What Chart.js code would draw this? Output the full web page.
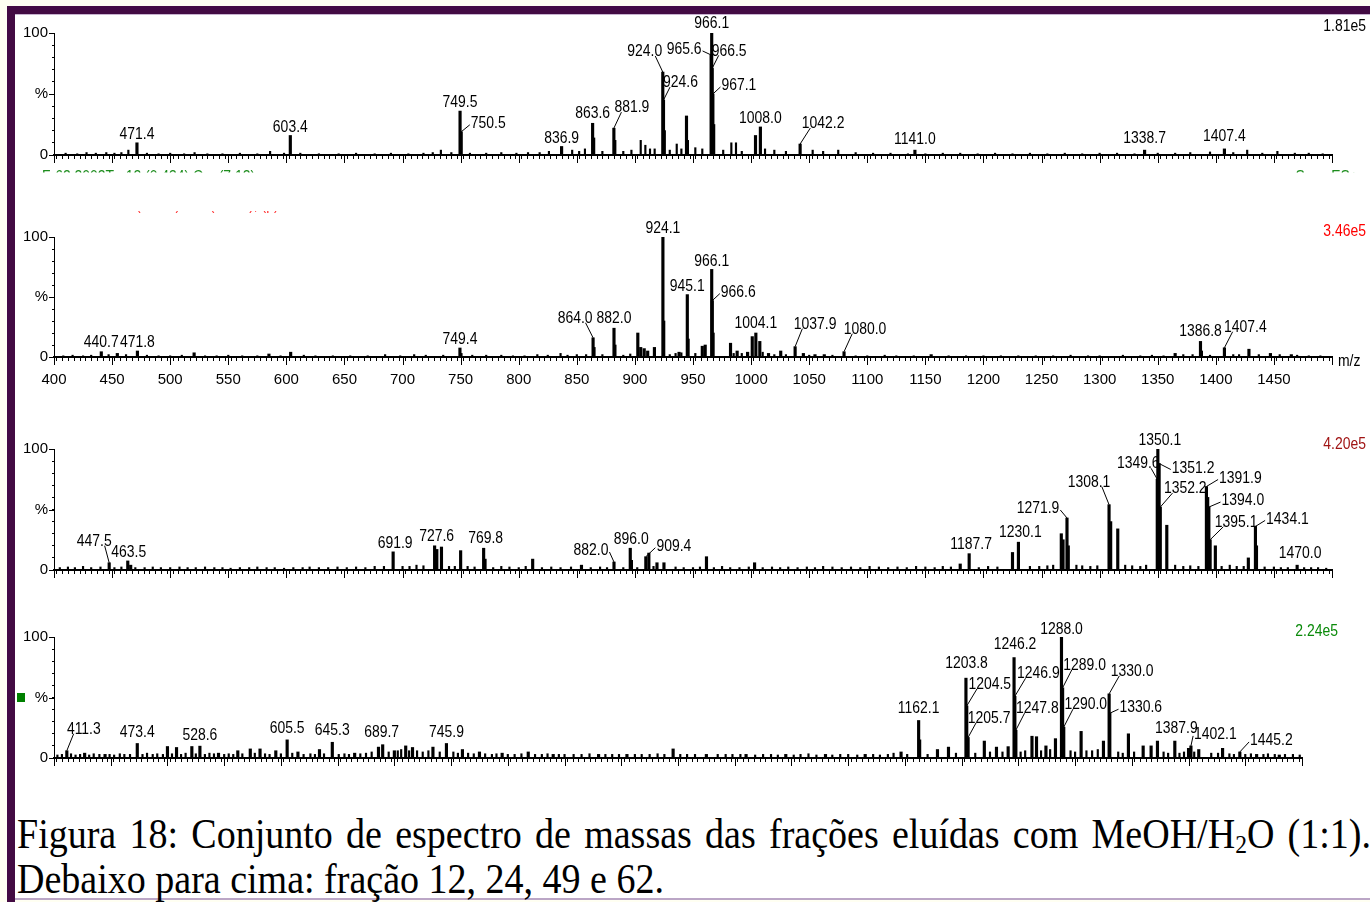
<!DOCTYPE html>
<html><head><meta charset="utf-8">
<script src="https://cdn.jsdelivr.net/npm/chart.js@4.4.1/dist/chart.umd.min.js"></script>
<style>
html,body{margin:0;padding:0;}
body{width:1370px;height:902px;position:relative;overflow:hidden;background:#fffff2;}
#frameTop{position:absolute;left:7px;top:6px;width:1363px;height:8px;background:#430b43;}
#frameLeft{position:absolute;left:7px;top:6px;width:8px;height:896px;background:#430b43;}
#white{position:absolute;left:15px;top:14px;width:1355px;height:884px;background:#fff;border-top:1px solid #c7b3cf;}
#frameBottom{position:absolute;left:15px;top:898px;width:1355px;height:2px;background:#bba6c6;}
canvas{position:absolute;left:0;}
.cap{position:absolute;left:17px;font-family:"Liberation Serif","Times New Roman",serif;font-size:42px;line-height:42px;white-space:nowrap;transform-origin:0 0;color:#000;}
.cap sub{font-size:26px;line-height:0;vertical-align:-5px;}
#greenSq{position:absolute;left:17px;top:693px;width:8px;height:9px;background:#008000;}
</style></head>
<body>
<div id="frameTop"></div><div id="frameLeft"></div><div id="white"></div><div id="frameBottom"></div>
<div id="greenSq"></div>
<canvas id="c62"></canvas><canvas id="c49"></canvas><canvas id="c24"></canvas><canvas id="c12"></canvas>
<div class="cap" id="cap1">Figura 18: Conjunto de espectro de massas das frações eluídas com MeOH/H<sub>2</sub>O (1:1).</div>
<div class="cap" id="cap2">Debaixo para cima: fração 12, 24, 49 e 62.</div>
<script>
// ================= DATA =================
const mzMin = 400, mzMax = 1500;
const xTickLabels = [400,450,500,550,600,650,700,750,800,850,900,950,1000,1050,1100,1150,1200,1250,1300,1350,1400,1450];
const yTickValues = [0, 50, 100];
const yTickTexts = ['0', '%', '100'];
const maxIntensity = ['1.81e5', '3.46e5', '4.20e5', '2.24e5'];

// fraction 62 (top panel): [m/z, relative intensity %]
const peaks62 = [[471.4,10],[603.4,16],[749.5,36],[750.5,19],[836.9,7],[863.6,26],[864.5,14],[881.9,22],[882.7,12],
 [924.0,68],[924.6,45],[925.3,20],[944.4,32],[945.2,12],[965.6,82],[966.1,100],[966.5,71],[967.1,50],[967.8,25],
 [1003.8,16],[1008.0,23],[1042.2,9],[1141.0,4],[1338.7,4],[1407.4,5]];
const noise62 = [[410,1.5],[420,1],[428,2],[436,1.5],[445,2],[452,1.5],[458,2],[464,4],[480,1.5],[490,1],[500,1.5],[512,1],
 [521,2],[532,1],[545,1],[560,1.5],[575,1],[586,3],[598,1.5],[612,1.5],[628,1],[645,1],[660,1.5],[676,1],[690,1.5],[705,1],
 [718,1.5],[726,2],[733,4],[742,2],[758,1.5],[772,1.5],[785,2],[798,1.5],[808,2],[818,2],[826,3],[846,4],[852,3],[857,5],
 [872,3],[890,3],[897,4],[905,12],[909,8],[913,5],[917,5],[930,4],[936,9],[940,5],[952,6],[958,5],[976,4],[983,10],[987,10],
 [992,3],[1012,5],[1020,4],[1030,3],[1053,4],[1062,3],[1075,4],[1090,2],[1105,1.5],[1120,1.5],[1135,1],[1150,1],[1165,1.5],
 [1180,1.5],[1195,1],[1210,1.5],[1225,1],[1240,1.5],[1255,1],[1270,1.5],[1285,1],[1300,1.5],[1315,1.5],[1330,1],[1350,1.5],
 [1365,1.5],[1378,2],[1395,2.5],[1415,2],[1427,4],[1440,1.5],[1453,3],[1468,1.5],[1480,1.5],[1492,1]];
const labels62 = [['471.4',471.4,10],['603.4',603.4,16],['749.5',749.5,36],['750.5',750.5,19],['836.9',836.9,7],
 ['863.6',863.6,26],['881.9',881.9,22],['924.0',924.0,68],['924.6',924.6,45],['965.6',965.6,82],['966.1',966.1,100],
 ['966.5',966.5,71],['967.1',967.1,50],['1008.0',1008.0,23],['1042.2',1042.2,9],['1141.0',1141.0,4],['1338.7',1338.7,4],
 ['1407.4',1407.4,5]];

// fraction 49
const peaks49 = [[440.7,4.4],[454.5,3],[471.8,5],[520.6,3.5],[585,2.5],[603.7,4],[749.4,7.5],[750.3,3],[864.0,16],[864.8,8],
 [882.0,24],[882.8,10],[902.5,20],[905,8],[908,7],[911,5],[916.8,8],[924.1,100],[924.8,30],[938,4],[945.1,52],[945.8,15],
 [958,9],[960.5,10],[966.1,73],[966.6,47],[967.3,20],[982.3,11.5],[988,5],[997,4],[1001,17],[1004.1,20],[1007.5,13],
 [1015,3],[1025.5,5],[1037.9,8.6],[1045,3],[1055,2],[1063,2],[1080.0,4.4],[1155,2],[1365,3],[1386.8,13],[1387.6,5],
 [1407.4,7.7],[1428.5,6.5],[1447,3],[1465,2]];
const noise49 = [[408,1],[416,1.5],[425,1],[432,1.5],[447,2],[462,2],[480,1.5],[490,1],[500,1],[510,1.5],[530,1],[540,1],
 [550,1.5],[562,1],[575,1],[595,1],[615,1.5],[625,1],[640,1],[655,1],[670,1],[685,2],[698,1],[710,2],[720,1.5],[735,1.5],
 [760,1.5],[772,1.5],[785,1.5],[795,1],[805,1],[816,2],[825,1.5],[836,3],[842,1.5],[850,2],[858,2],[872,2],[890,1.5],
 [896,2.5],[930,2],[935,3],[940,3.5],[952,3],[985,3],[992,3],[1010,4],[1020,2],[1030,2],[1050,1.5],[1070,1.5],[1090,1],
 [1100,1],[1115,1.5],[1125,1],[1140,1],[1170,1],[1185,1],[1200,1],[1215,1],[1230,1],[1245,1],[1260,1],[1275,1.5],[1290,1],
 [1300,1],[1320,1.5],[1335,1],[1345,1.5],[1355,1],[1372,2],[1380,2],[1395,1.5],[1415,2],[1420,2],[1437,2],[1455,2],
 [1470,1.5],[1480,1],[1490,1]];
const labels49 = [['440.7',440.7,4.4],['471.8',471.8,5],['749.4',749.4,7.5],['864.0',864.0,16],['882.0',882.0,24],
 ['924.1',924.1,100],['945.1',945.1,52],['966.1',966.1,73],['966.6',966.6,47],['1004.1',1004.1,20],['1037.9',1037.9,8.6],
 ['1080.0',1080.0,4.4],['1386.8',1386.8,13],['1407.4',1407.4,7.7]];

// fraction 24
const peaks24 = [[447.5,6],[463.5,7.5],[466,4],[691.9,15],[727.6,20],[729.5,17],[733.5,19],[750,16],[769.8,18],[771,9],
 [812,9],[854,4],[882.0,6.6],[896.0,18],[897,8],[909.4,11],[912,14],[919,6],[925,6],[961.6,11],[1003,6],[1180,5],
 [1187.7,13.5],[1225,14.5],[1230.1,23],[1267,30],[1268.5,25],[1271.9,43],[1273,20],[1308.1,54],[1309.5,40],[1315.6,34],
 [1349.6,75],[1350.1,100],[1351.2,88],[1352.2,52],[1357.8,37],[1391.9,69],[1393,60],[1394.0,52],[1395.1,25],[1399.6,20],
 [1428,10],[1434.1,36],[1435,20],[1470.0,4]];
const noise24 = [[405,2],[412,2.5],[418,2],[425,3],[432,2],[440,2.5],[452,2],[458,2.5],[470,2],[478,2],[485,2.5],[492,2],
 [500,2],[508,2.5],[515,2],[522,2],[530,2.5],[538,2],[545,2],[552,1.5],[560,2],[568,2],[575,2.5],[583,2],[590,2],[598,1.5],
 [606,2],[614,2],[620,2.5],[628,2],[636,2],[644,2.5],[652,2],[660,2.5],[668,2],[676,3],[684,3],[700,3],[706,3],[712,4],
 [718,3.5],[740,3],[745,3],[756,3],[762,2.5],[778,2],[785,3],[792,2.5],[800,2],[806,3],[820,2],[828,2.5],[836,2],[845,2.5],
 [862,2],[870,2.5],[876,2],[890,2],[902,2],[916,3],[935,2.5],[942,2],[950,2],[956,2.5],[968,2],[975,3],[982,2],[990,2],
 [998,2.5],[1010,2],[1018,2.5],[1025,2],[1032,2.5],[1040,2],[1048,2.5],[1055,2],[1062,3],[1070,2.5],[1078,2],[1086,2.5],
 [1094,2],[1102,3],[1110,2.5],[1118,2],[1126,2.5],[1134,2],[1142,3],[1150,2.5],[1158,2],[1165,3],[1172,2.5],[1196,2],
 [1204,3],[1212,2.5],[1240,3],[1248,3],[1255,3.5],[1260,4],[1280,4],[1285,3.5],[1292,3],[1298,3.5],[1322,4],[1328,3.5],
 [1335,3],[1340,4],[1365,4],[1372,3],[1378,3.5],[1385,3],[1405,3],[1412,4],[1418,3],[1424,3],[1442,2.5],[1450,2.5],
 [1456,2],[1462,2],[1476,2],[1482,2],[1488,2],[1495,1.5]];
const labels24 = [['447.5',447.5,6],['463.5',463.5,7.5],['691.9',691.9,15],['727.6',727.6,20],['769.8',769.8,18],
 ['882.0',882.0,6.6],['896.0',896.0,18],['909.4',909.4,11],['1187.7',1187.7,13.5],['1230.1',1230.1,23],
 ['1271.9',1271.9,43],['1308.1',1308.1,54],['1349.6',1349.6,75],['1350.1',1350.1,100],['1351.2',1351.2,88],
 ['1352.2',1352.2,52],['1391.9',1391.9,69],['1394.0',1394.0,52],['1395.1',1395.1,25],['1434.1',1434.1,36],['1470.0',1470.0,4]];

// fraction 12 (bottom panel)
const peaks12 = [[411.3,6],[427,4],[445,3],[473.4,12],[500,9.5],[508,8.7],[521.5,9.5],[528.6,9.8],[545,4],[562,6],[573,7.5],
 [581.6,7.5],[595.5,6],[605.5,15],[615,5],[634,7],[645.3,13],[665,4],[686,9],[689.7,11],[700,6],[710,10],[716,8.7],[734,9],
 [745.9,12],[760,7],[775,5],[795,4],[818,5],[840,3],[880,3],[905,3],[945.7,7.5],[975,3],[1010,3],[1045,3],[1080,3],
 [1115,3],[1146.6,5],[1162.1,31],[1163,15],[1178.7,7],[1188.4,9],[1203.8,66],[1204.5,43],[1205.7,17],[1220,14],
 [1230.7,9],[1241,9.4],[1246.2,83],[1246.9,51],[1247.8,23],[1262,18],[1266,17.6],[1274.3,10],[1282.7,16],[1288.0,100],
 [1289.0,58],[1290.0,25.5],[1305.3,22],[1325,14],[1330.0,53],[1330.6,37],[1347,20],[1360,10],[1367,10],[1372.6,14],
 [1387.9,14],[1400,8],[1402.1,10],[1409,7],[1430,8],[1445.2,5],[1460,3],[1480,2.5]];
const noise12 = [[403,2.5],[407,3],[415,3.5],[419,2.5],[423,3],[431,2.5],[435,3.5],[440,3],[449,3],[453,2.5],[458,3.5],
 [462,3],[467,3],[478,3],[482,4],[487,3],[491,3.5],[496,3],[504,3.5],[512,3],[516,4],[525,3.5],[533,3],[537,4],[541,3.5],
 [550,3],[554,3.5],[558,3],[566,3.5],[577,4],[586,3.5],[590,3],[600,3.5],[610,4],[620,3],[626,3.5],[630,3],[638,3.5],
 [651,3],[656,3.5],[660,3],[670,3.5],[675,4],[680,5],[695,5],[703,6],[706,7],[713,6],[720,6],[725,5],[730,6],[740,5],
 [752,5],[756,4],[765,4],[770,3.5],[780,3.5],[786,3],[790,3.5],[800,3],[806,3],[812,3.5],[824,3],[830,3],[835,3.5],
 [845,3],[850,3],[858,3],[865,3],[872,3.5],[886,3],[892,3],[898,3],[912,3],[918,3],[925,3],[932,3.5],[938,3],[952,3],
 [958,3],[965,3],[985,3],[992,3],[998,3],[1005,3],[1018,2.5],[1025,3],[1032,3],[1038,2.5],[1052,2.5],[1058,3],[1065,3.5],
 [1072,2.5],[1086,2.5],[1093,3],[1100,3],[1108,2.5],[1122,3],[1128,2.5],[1135,3],[1140,4],[1152,3],[1170,3],[1195,4],
 [1212,4],[1225,5],[1236,5],[1252,5],[1256,6],[1270,6],[1278,7],[1296,6],[1300,5],[1310,6],[1315,6],[1320,7],[1338,5],
 [1342,4],[1352,5],[1378,5],[1382,4],[1392,4],[1396,5],[1405,5],[1420,4],[1426,4],[1436,3.5],[1440,3],[1450,3],[1455,3.5],
 [1466,3],[1470,3.5],[1476,3],[1485,3],[1492,3],[1498,2.5]];
const labels12 = [['411.3',411.3,6],['473.4',473.4,12],['528.6',528.6,9.8],['605.5',605.5,15],['645.3',645.3,13],
 ['689.7',689.7,11],['745.9',745.9,12],['1162.1',1162.1,31],['1203.8',1203.8,66],['1204.5',1204.5,43],['1205.7',1205.7,17],
 ['1246.2',1246.2,83],['1246.9',1246.9,51],['1247.8',1247.8,23],['1288.0',1288.0,100],['1289.0',1289.0,58],
 ['1290.0',1290.0,25.5],['1330.0',1330.0,53],['1330.6',1330.6,37],['1387.9',1387.9,14],['1402.1',1402.1,10],['1445.2',1445.2,5]];

// ================= STYLE / LAYOUT =================
const offsets62 = {'471.4':[0,-10],'603.4':[0,-10],'749.5':[0,-10],'750.5':[27,-10],'836.9':[0,-10],'863.6':[0,-11],
 '881.9':[18,-22],'924.0':[-18,-22],'924.6':[17,-19],'965.6':[-27,-7],'966.1':[0,-11],'966.5':[17,-19],'967.1':[26,-10],
 '1008.0':[0,-10],'1042.2':[23,-22],'1141.0':[0,-12],'1338.7':[0,-13],'1407.4':[0,-14]};
const offsets49 = {'440.7':[0,-11],'471.8':[0,-10],'749.4':[0,-10],'864.0':[-18,-21],'882.0':[0,-11],'924.1':[0,-10],
 '945.1':[0,-10],'966.1':[0,-10],'966.6':[26,-10],'1004.1':[0,-11],'1037.9':[20,-24],'1080.0':[21,-24],'1386.8':[0,-12],
 '1407.4':[21,-22]};
const offsets24 = {'447.5':[-15,-23],'463.5':[1,-10],'691.9':[2,-10],'727.6':[2,-11],'769.8':[2,-11],'882.0':[-23,-13],
 '896.0':[1,-10],'909.4':[28,-12],'1187.7':[2,-11],'1230.1':[2,-11],'1271.9':[-29,-11],'1308.1':[-20,-24],
 '1349.6':[-19,-17],'1350.1':[2,-10],'1351.2':[34,3],'1352.2':[25,-20],'1391.9':[34,-10],'1394.0':[34,-8],
 '1395.1':[26,-19],'1434.1':[32,-9],'1470.0':[3,-13]};
const offsets12 = {'411.3':[17,-23],'473.4':[0,-12.5],'528.6':[0,-12],'605.5':[0,-13],'645.3':[0,-13],'689.7':[-1,-14],
 '745.9':[0,-12.5],'1162.1':[0,-13.5],'1203.8':[0.5,-16],'1204.5':[23,-23],'1205.7':[21,-21],'1246.2':[1,-14.6],
 '1246.9':[23.5,-24],'1247.8':[21.5,-23],'1288.0':[0,-9],'1289.0':[22,-24],'1290.0':[22,-24],'1330.0':[23,-24],
 '1330.6':[31,-7],'1387.9':[1.5,-14],'1402.1':[24.5,-13],'1445.2':[31.6,-13]};

const NARROW = (() => {
  const c = document.createElement('canvas').getContext('2d');
  const s = '966.1 1.81e5 m/z';
  c.font = '40px monospace'; const a = c.measureText(s).width;
  c.font = '40px "Liberation Sans Narrow", monospace'; const b = c.measureText(s).width;
  return Math.abs(a - b) > 0.5;
})();
const FAM = NARROW ? '"Liberation Sans Narrow", "Liberation Sans", Arial, sans-serif' : '"Liberation Sans", Arial, sans-serif';
const SQ = NARROW ? 1 : 0.82;
const LABEL_PX = 17, AXIS_PX = NARROW ? 18 : 15;

const PANELS = [
  {id:'c62', top:15, h:170, pad:{left:14,right:38,top:18,bottom:18}, xh:12, showX:false,
   peaks:peaks62, noise:noise62, labels:labels62, offsets:offsets62,
   texts:[{t:maxIntensity[0], x:1366, y:25, color:'#000', align:'right'},
          {t:'Fr62 2002T   12 (0.434) Cm (7:12)', x:42, y:176, color:'#1c8c1c', align:'left', clip:[150,172.5]},
          {t:'Scan ES+', x:1358, y:176, color:'#1c8c1c', align:'right', clip:[150,172.5]}]},
  {id:'c49', top:190, h:212, pad:{left:14,right:38,top:47,bottom:15}, xh:30, showX:true,
   peaks:peaks49, noise:noise49, labels:labels49, offsets:offsets49,
   texts:[{t:maxIntensity[1], x:1366, y:230, color:'#ff0000', align:'right'},
          {t:'m/z', x:1338, y:360, color:'#000', align:'left'},
          {t:'Fr49 2002T   24 (0.867) Cm (21:27), (p)', x:33, y:204, color:'#ff3030', align:'left', clip:[211,218]}]},
  {id:'c24', top:405, h:185, pad:{left:14,right:38,top:44,bottom:8}, xh:12, showX:false,
   peaks:peaks24, noise:noise24, labels:labels24, offsets:offsets24,
   texts:[{t:maxIntensity[2], x:1366, y:443, color:'#a01414', align:'right'}]},
  {id:'c12', top:598, h:180, pad:{left:14,right:68,top:39,bottom:8}, xh:12, showX:false,
   peaks:peaks12, noise:noise12, labels:labels12, offsets:offsets12,
   texts:[{t:maxIntensity[3], x:1338, y:630, color:'#0a8a0a', align:'right'}]}
];

function drawTxt(ctx, t, x, yCenter, align, px) {
  ctx.save();
  ctx.font = px + 'px ' + FAM;
  ctx.textBaseline = 'alphabetic';
  ctx.textAlign = align;
  ctx.translate(x, yCenter + 0.36 * px);
  ctx.scale(SQ, 1);
  ctx.fillText(t, 0, 0);
  ctx.restore();
}

const spectrumPlugin = {
  id: 'spectrumDecor',
  afterDraw(chart, args, o) {
    const ctx = chart.ctx, xs = chart.scales.x, ys = chart.scales.y;
    ctx.save();
    ctx.strokeStyle = '#000'; ctx.lineWidth = 1;
    ctx.beginPath();
    xs.ticks.forEach(t => {
      if (t.value % 50 === 0) {
        const px = Math.round(xs.getPixelForValue(t.value)) + 0.5;
        ctx.moveTo(px, ys.bottom); ctx.lineTo(px, ys.bottom + 8);
      }
    });
    ys.ticks.forEach(t => {
      if (yTickValues.includes(t.value)) {
        const py = Math.round(ys.getPixelForValue(t.value)) + 0.5;
        ctx.moveTo(xs.left - 5, py); ctx.lineTo(xs.left, py);
      }
    });
    ctx.stroke();
    // peak annotations
    ctx.fillStyle = '#000';
    ctx.font = LABEL_PX + 'px ' + FAM;
    o.labels.forEach(([t, mz, p]) => {
      const ax = xs.getPixelForValue(mz), ay = ys.getPixelForValue(p);
      const [dx, dy] = o.offsets[t] || [0, -10];
      const cx = ax + dx, cy = ay + dy;
      drawTxt(ctx, t, cx, cy, 'center', LABEL_PX);
      if (Math.abs(dx) > 5) {
        const w = ctx.measureText(t).width * SQ;
        const sgn = Math.sign(dx);
        let sx, sy;
        if (dy <= -15) { sx = cx - sgn * w * 0.3; sy = cy + 6; }
        else { sx = cx - sgn * (w / 2 + 1); sy = cy + 3; }
        ctx.beginPath(); ctx.moveTo(sx, sy); ctx.lineTo(ax, ay); ctx.stroke();
      }
    });
    // extra texts (absolute page coords)
    o.texts.forEach(tx => {
      ctx.save();
      ctx.fillStyle = tx.color;
      if (tx.clip) {
        ctx.beginPath();
        ctx.rect(0, tx.clip[0] - o.top, chart.width, tx.clip[1] - tx.clip[0]);
        ctx.clip();
      }
      drawTxt(ctx, tx.t, tx.x, tx.y - o.top, tx.align, LABEL_PX);
      ctx.restore();
    });
    ctx.restore();
  }
};

PANELS.forEach(P => {
  const cv = document.getElementById(P.id);
  cv.width = 1370; cv.height = P.h;
  cv.style.width = '1370px'; cv.style.height = P.h + 'px'; cv.style.top = P.top + 'px';
  new Chart(cv, {
    type: 'bar',
    data: {
      datasets: [
        {data: P.noise.map(([m, p]) => ({x: m, y: p})), backgroundColor: '#000', barThickness: 1.5, grouped: false, borderWidth: 0},
        {data: P.peaks.map(([m, p]) => ({x: m, y: p})), backgroundColor: '#000', barThickness: 2.5, grouped: false, borderWidth: 0}
      ]
    },
    options: {
      responsive: false, animation: false, devicePixelRatio: 1, events: [],
      layout: {padding: P.pad},
      plugins: {legend: {display: false}, tooltip: {enabled: false},
                spectrumDecor: {labels: P.labels, offsets: P.offsets, texts: P.texts, top: P.top}},
      scales: {
        x: {type: 'linear', min: mzMin, max: mzMax, offset: false,
            afterFit: s => { s.height = P.xh; },
            border: {display: true, color: '#000', width: 2},
            grid: {display: true, drawOnChartArea: false, drawTicks: true, tickLength: 4, color: '#000', tickColor: '#000', tickWidth: 1},
            ticks: {stepSize: 5, autoSkip: false, maxRotation: 0, minRotation: 0, padding: 10, color: '#000',
                    font: {family: FAM, size: AXIS_PX},
                    callback: v => (P.showX && xTickLabels.includes(v)) ? String(v) : ''}},
        y: {type: 'linear', min: 0, max: 100,
            afterFit: s => { s.width = 40; },
            border: {display: true, color: '#000', width: 1},
            grid: {display: true, drawOnChartArea: false, drawTicks: true, tickLength: 2, color: '#000', tickColor: '#000', tickWidth: 1},
            ticks: {stepSize: 10, autoSkip: false, padding: 4, color: '#000', font: {family: FAM, size: AXIS_PX},
                    callback: v => { const i = yTickValues.indexOf(v); return i >= 0 ? yTickTexts[i] : ''; }}}
      }
    },
    plugins: [spectrumPlugin]
  });
});

// caption layout (condensed, justified first line)
(function () {
  const c1 = document.getElementById('cap1'), c2 = document.getElementById('cap2');
  c1.style.top = '813px'; c2.style.top = '858px';
  const w2 = c2.getBoundingClientRect().width;
  const k = 647 / w2;
  c2.style.transform = 'scaleX(' + k + ')';
  const w1 = c1.getBoundingClientRect().width;
  const spaces = (c1.textContent.match(/ /g) || []).length;
  c1.style.wordSpacing = ((1354 / k - w1) / spaces) + 'px';
  c1.style.transform = 'scaleX(' + k + ')';
})();
</script>
</body></html>
